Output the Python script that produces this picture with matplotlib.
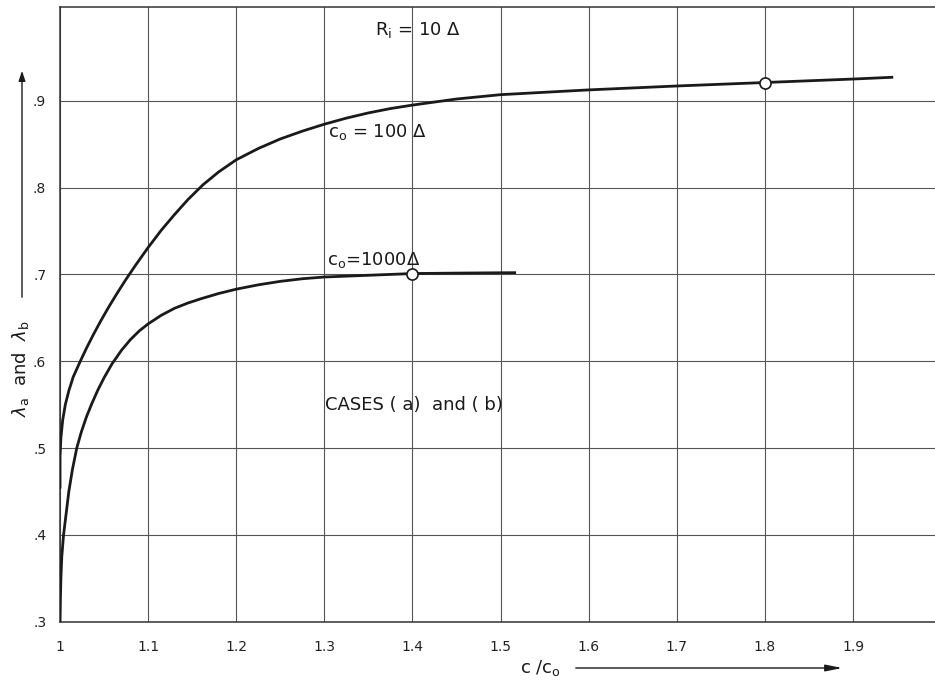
import numpy as np
import matplotlib
matplotlib.use("Agg")
from matplotlib import pyplot as plt

# curve c_o = 100 delta
x_100 = [1.0, 1.0, 1.001, 1.003, 1.006, 1.01, 1.015, 1.023, 1.03, 1.038, 1.046, 1.055,
         1.064, 1.074, 1.086, 1.1, 1.115, 1.13, 1.145, 1.162, 1.18, 1.2, 1.225, 1.25,
         1.275, 1.3, 1.325, 1.35, 1.375, 1.4, 1.45, 1.5, 1.6, 1.7, 1.8, 1.9, 1.944]
y_100 = [0.455, 0.49, 0.512, 0.532, 0.55, 0.566, 0.582, 0.60, 0.615, 0.631, 0.646, 0.662,
         0.677, 0.693, 0.711, 0.731, 0.751, 0.769, 0.786, 0.803, 0.818, 0.832, 0.845, 0.856,
         0.865, 0.873, 0.880, 0.886, 0.891, 0.895, 0.902, 0.907, 0.9125, 0.917, 0.921, 0.925, 0.927]

# curve c_o = 1000 delta
x_1000 = [1.0, 1.0005, 1.001, 1.002, 1.004, 1.007, 1.01, 1.014, 1.019, 1.024, 1.03, 1.036,
          1.043, 1.05, 1.059, 1.07, 1.08, 1.09, 1.1, 1.115, 1.13, 1.145, 1.16, 1.18,
          1.2, 1.225, 1.25, 1.275, 1.3, 1.35, 1.4, 1.45, 1.516]
y_1000 = [0.30, 0.33, 0.35, 0.375, 0.40, 0.425, 0.45, 0.475, 0.50, 0.518, 0.536, 0.551,
          0.567, 0.581, 0.597, 0.613, 0.625, 0.635, 0.643, 0.653, 0.661, 0.667, 0.672, 0.678,
          0.683, 0.688, 0.692, 0.695, 0.697, 0.699, 0.701, 0.7015, 0.702]

# open circles
mark_x = [1.8, 1.4]
mark_y = [0.921, 0.701]

x_ticks = [1.0, 1.1, 1.2, 1.3, 1.4, 1.5, 1.6, 1.7, 1.8, 1.9]
x_labels = ["1", "1.1", "1.2", "1.3", "1.4", "1.5", "1.6", "1.7", "1.8", "1.9"]
y_ticks = [0.3, 0.4, 0.5, 0.6, 0.7, 0.8, 0.9]
y_labels = [".3", ".4", ".5", ".6", ".7", ".8", ".9"]

fig = plt.figure(figsize=(9.35, 6.83), dpi=100)
ax = fig.add_axes([0.0642, 0.0897, 0.9358, 0.9001])

ax.plot(x_100, y_100, color="#1a1a1a", lw=2.0, zorder=3)
ax.plot(x_1000, y_1000, color="#1a1a1a", lw=2.0, zorder=3)
ax.plot(mark_x, mark_y, "o", ms=8, mfc="white", mec="#1a1a1a", mew=1.2, zorder=4)

ax.set_xlim(1.0, 1.993)
ax.set_ylim(0.3, 1.008)
ax.set_xticks(x_ticks)
ax.set_xticklabels(x_labels)
ax.set_yticks(y_ticks)
ax.set_yticklabels(y_labels)
ax.tick_params(length=0, labelsize=10, colors="#222222")
ax.tick_params(axis="x", pad=13)
ax.tick_params(axis="y", pad=10)

ax.grid(True, color="#555555", lw=0.8)
ax.spines["right"].set_visible(False)
for s in ["left", "bottom", "top"]:
    ax.spines[s].set_color("#333333")
    ax.spines[s].set_linewidth(1.1)

ax.text(1.357, 0.982, r"R$_{\mathrm{i}}$ = 10 $\Delta$", fontsize=13, va="center", color="#1a1a1a")
ax.text(1.304, 0.864, r"c$_{\mathrm{o}}$ = 100 $\Delta$", fontsize=13, va="center", color="#1a1a1a")
ax.text(1.303, 0.717, r"c$_{\mathrm{o}}$=1000$\Delta$", fontsize=13, va="center", color="#1a1a1a")
ax.text(1.301, 0.55, "CASES ( a)  and ( b)", fontsize=13, va="center", color="#1a1a1a")

# axis labels with arrows, as on the original drawing
fig.text(21 / 935, 1 - 369 / 683, r"$\lambda_{\mathrm{a}}$  and  $\lambda_{\mathrm{b}}$",
         rotation=90, fontsize=13, ha="center", va="center", color="#1a1a1a")
fig.add_artist(matplotlib.patches.FancyArrowPatch(
    (22 / 935, 1 - 300 / 683), (22 / 935, 1 - 68 / 683), transform=fig.transFigure,
    arrowstyle="-|>,head_length=6,head_width=2", color="#1a1a1a", lw=1.0))
fig.text(540 / 935, 1 - 668 / 683, r"c /c$_{\mathrm{o}}$", fontsize=13,
         ha="center", va="center", color="#1a1a1a")
fig.add_artist(matplotlib.patches.FancyArrowPatch(
    (573 / 935, 1 - 668 / 683), (845 / 935, 1 - 668 / 683), transform=fig.transFigure,
    arrowstyle="-|>,head_length=10,head_width=2", color="#1a1a1a", lw=1.0))

fig.savefig("out.png", dpi=100)
